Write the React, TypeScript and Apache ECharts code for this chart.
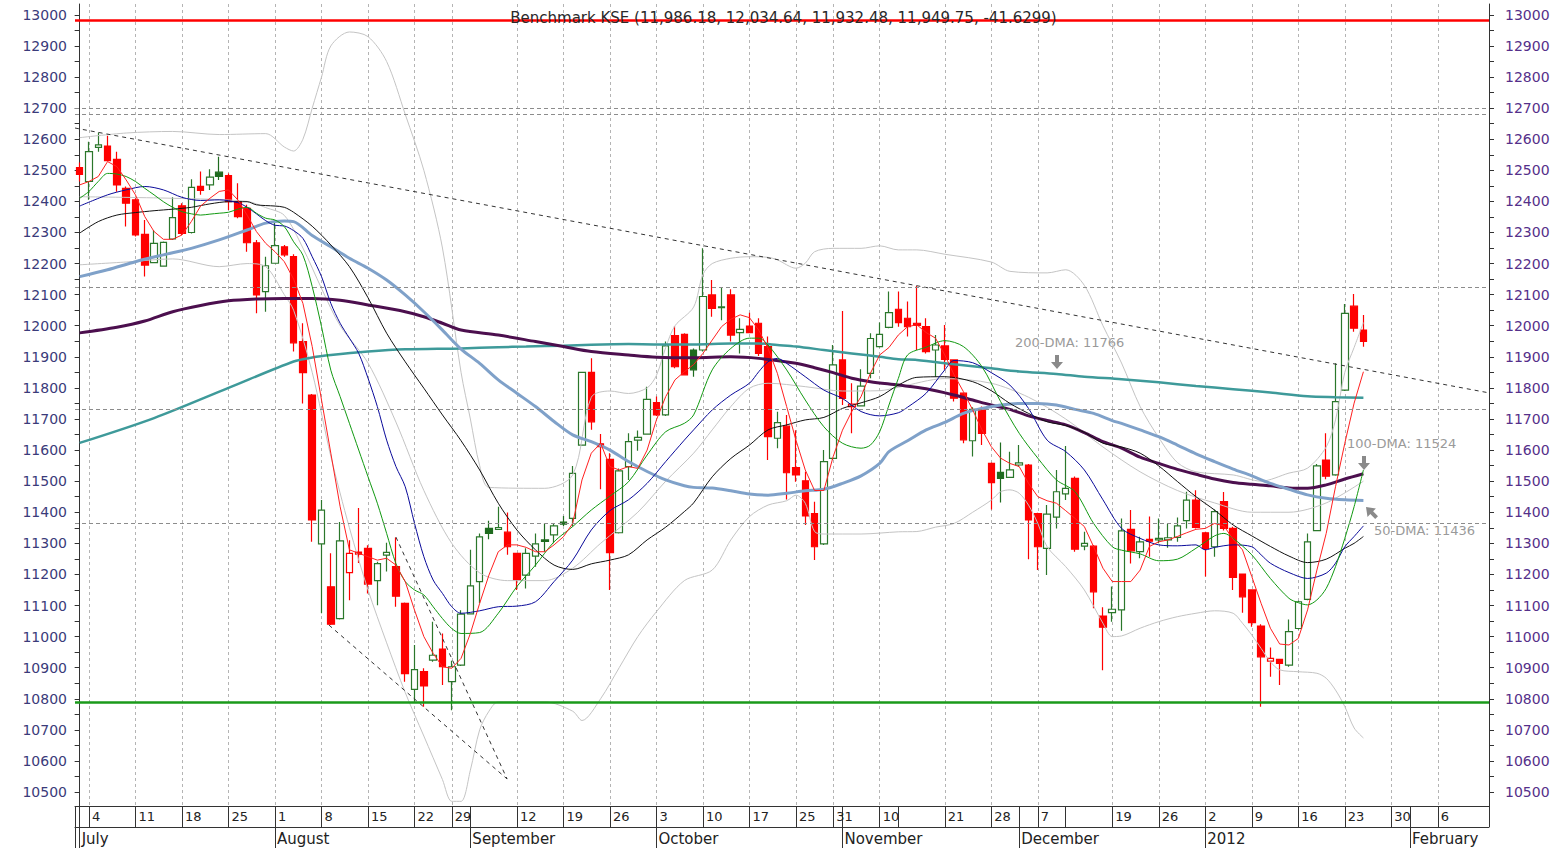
import React, { useEffect, useRef } from "react";
import * as echarts from "echarts";

// ---------- categories (trading days) ----------
const HOLIDAYS = [
  "2011-08-26", "2011-08-31", "2011-09-01", "2011-09-02", "2011-10-24",
  "2011-11-07", "2011-11-08", "2011-11-09", "2011-12-05", "2011-12-06",
];
function buildDays(): string[] {
  const out: string[] = [];
  const d = new Date(Date.UTC(2011, 6, 1));
  while (out.length < 152) {
    const wd = d.getUTCDay();
    const s = d.toISOString().slice(0, 10);
    if (wd !== 0 && wd !== 6 && HOLIDAYS.indexOf(s) < 0) out.push(s);
    d.setUTCDate(d.getUTCDate() + 1);
  }
  return out;
}
const DAYS = buildDays();

// ---------- tick labels ----------
const WEEK_TICKS = [0, 1, 6, 11, 16, 21, 26, 31, 36, 40, 42, 47, 52, 57, 62, 67, 72, 77, 81, 82, 86, 88, 93, 98, 101, 103, 106, 111, 116, 121, 126, 131, 136, 141, 143, 146];
const DAY_LABELED = [1, 6, 11, 16, 21, 26, 31, 36, 40, 47, 52, 57, 62, 67, 72, 77, 81, 86, 93, 98, 103, 111, 116, 121, 126, 131, 136, 141, 146];
const GRID_DAYS = DAY_LABELED;
const MONTH_TICKS = [0, 21, 42, 62, 82, 101, 121, 143];
const MONTH_NAMES = ["July", "August", "September", "October", "November", "December", "2012", "February"];
const Y_LABELS = [10500, 10600, 10700, 10800, 10900, 11000, 11100, 11200, 11300, 11400, 11500, 11600, 11700, 11800, 11900, 12000, 12100, 12200, 12300, 12400, 12500, 12600, 12700, 12800, 12900, 13000];
const Y_MINOR = [10550, 10650, 10750, 10850, 10950, 11050, 11150, 11250, 11350, 11450, 11550, 11650, 11750, 11850, 11950, 12050, 12150, 12250, 12350, 12450, 12550, 12650, 12750, 12850, 12950];

// ---------- prices: [open, high, low, close] ----------
const OHLC: number[][] = [
  [12509, 12525, 12464, 12487], [12464, 12592, 12405, 12560], [12574, 12622, 12560, 12582], [12578, 12611, 12528, 12531],
  [12535, 12560, 12431, 12453], [12442, 12448, 12319, 12394], [12405, 12410, 12287, 12292], [12294, 12340, 12158, 12195],
  [12203, 12308, 12201, 12265], [12192, 12271, 12190, 12268], [12279, 12413, 12276, 12348], [12386, 12394, 12292, 12297],
  [12300, 12471, 12297, 12445], [12448, 12496, 12421, 12435], [12453, 12503, 12437, 12478], [12494, 12544, 12469, 12480],
  [12483, 12490, 12372, 12399], [12399, 12458, 12346, 12351], [12378, 12389, 12238, 12267], [12267, 12276, 12040, 12099],
  [12110, 12222, 12045, 12193], [12201, 12335, 12199, 12258], [12254, 12260, 12222, 12228], [12222, 12230, 11917, 11945],
  [11949, 12008, 11750, 11849], [11777, 11780, 11305, 11375], [11298, 11439, 11075, 11407], [11160, 11268, 11037, 11040],
  [11058, 11369, 11055, 11308], [11206, 11310, 11117, 11268], [11272, 11414, 11237, 11265], [11284, 11294, 11139, 11169],
  [11180, 11241, 11101, 11235], [11262, 11302, 11209, 11271], [11225, 11319, 11096, 11130], [11107, 11110, 10855, 10881],
  [10830, 10973, 10790, 10894], [10887, 10898, 10774, 10841], [10924, 11048, 10919, 10940], [10960, 11010, 10844, 10903],
  [10855, 10922, 10763, 10903], [10908, 11085, 10905, 11072], [11073, 11279, 11072, 11163], [11177, 11332, 11107, 11321],
  [11348, 11373, 11313, 11332], [11345, 11418, 11343, 11351], [11336, 11399, 11263, 11289], [11268, 11270, 11150, 11182],
  [11198, 11284, 11155, 11268], [11259, 11332, 11225, 11298], [11311, 11364, 11273, 11306], [11327, 11362, 11300, 11356],
  [11368, 11388, 11356, 11362], [11380, 11549, 11354, 11525], [11616, 11852, 11614, 11850], [11850, 11895, 11665, 11691],
  [11620, 11652, 11474, 11611], [11570, 11590, 11150, 11270], [11334, 11541, 11332, 11533], [11547, 11654, 11504, 11627],
  [11632, 11663, 11598, 11641], [11651, 11804, 11650, 11763], [11753, 11772, 11710, 11713], [11713, 11949, 11710, 11935],
  [11968, 11999, 11863, 11868], [11972, 11976, 11840, 11842], [11922, 11927, 11836, 11858], [11922, 12249, 11917, 12094],
  [12099, 12147, 12029, 12056], [12058, 12124, 12018, 12061], [12099, 12117, 11949, 11970], [11978, 12024, 11911, 11988],
  [11999, 12042, 11976, 11978], [12008, 12024, 11903, 11911], [11933, 11965, 11568, 11643], [11638, 11723, 11606, 11688],
  [11677, 11713, 11441, 11527], [11544, 11664, 11498, 11520], [11501, 11530, 11359, 11388], [11396, 11434, 11246, 11289],
  [11298, 11600, 11295, 11563], [11573, 11938, 11568, 11874], [11890, 12047, 11745, 11766], [11740, 11815, 11654, 11748],
  [11742, 11860, 11740, 11806], [11847, 11976, 11831, 11959], [11933, 12010, 11930, 11972], [11995, 12110, 11992, 12042],
  [12053, 12110, 11997, 12010], [12024, 12078, 11965, 11997], [12008, 12128, 11922, 12001], [11997, 12024, 11911, 11917],
  [11922, 11970, 11836, 11938], [11935, 12002, 11858, 11892], [11890, 11892, 11756, 11767], [11783, 11785, 11622, 11633],
  [11630, 11738, 11579, 11731], [11729, 11740, 11616, 11654], [11557, 11560, 11409, 11495], [11528, 11624, 11431, 11509],
  [11512, 11595, 11510, 11536], [11552, 11616, 11546, 11559], [11552, 11555, 11249, 11375], [11396, 11398, 11214, 11289],
  [11284, 11423, 11198, 11394], [11384, 11536, 11348, 11466], [11459, 11613, 11439, 11477], [11509, 11515, 11273, 11281],
  [11291, 11337, 11278, 11300], [11291, 11295, 11091, 11144], [11066, 11094, 10892, 11030], [11077, 11161, 11048, 11088],
  [11086, 11380, 11019, 11340], [11345, 11407, 11235, 11276], [11273, 11321, 11252, 11305], [11313, 11386, 11257, 11307],
  [11311, 11380, 11300, 11316], [11311, 11362, 11286, 11318], [11319, 11383, 11305, 11356], [11373, 11466, 11348, 11439],
  [11439, 11471, 11348, 11351], [11334, 11337, 11193, 11284], [11289, 11409, 11257, 11402], [11434, 11465, 11341, 11348],
  [11348, 11353, 11150, 11190], [11201, 11203, 11077, 11128], [11150, 11152, 11032, 11045], [11034, 11040, 10774, 10935],
  [10921, 10965, 10871, 10930], [10927, 10929, 10844, 10914], [10908, 11055, 10903, 11016], [11026, 11115, 11023, 11112],
  [11120, 11332, 11117, 11305], [11341, 11555, 11339, 11549], [11568, 11654, 11506, 11516], [11520, 11879, 11517, 11756],
  [11793, 12070, 11790, 12040], [12063, 12102, 11981, 11992], [11986.18, 12034.64, 11932.48, 11949.75],
];
const DARK_FILLED = [15, 44, 50, 52, 66, 99];
const RED_HOLLOW = [29, 83, 128];

// ---------- indicator lines ----------
const MA5 = [
  12453, 12464, 12480, 12528, 12512, 12469, 12421, 12351, 12303, 12278, 12278, 12292, 12335, 12385, 12410, 12432, 12437, 12405, 12356, 12303,
  12265, 12238, 12206, 12150, 12072, 11933, 11761, 11590, 11418, 11279, 11268, 11257, 11246, 11252, 11230, 11177, 11085, 11000, 10946, 10903,
  10898, 10930, 11010, 11107, 11198, 11273, 11295, 11295, 11287, 11273, 11273, 11295, 11321, 11364, 11504, 11590, 11622, 11547, 11536, 11547,
  11541, 11600, 11697, 11772, 11826, 11852, 11875, 11911, 11954, 11997, 12021, 12035, 12026, 11986, 11927, 11847, 11740, 11632, 11536, 11470,
  11470, 11579, 11664, 11724, 11772, 11847, 11906, 11930, 11970, 11997, 12003, 11978, 11960, 11906, 11842, 11788, 11729, 11665, 11611, 11574,
  11557, 11547, 11493, 11450, 11437, 11429, 11405, 11380, 11354, 11289, 11220, 11177, 11177, 11177, 11214, 11290, 11305, 11311, 11322, 11334,
  11345, 11348, 11364, 11356, 11313, 11279, 11193, 11107, 11027, 10976, 10973, 10994, 11086, 11214, 11332, 11482, 11622, 11751, 11852,
];
const MA10: number[][] = [
  [0, 12410], [1, 12432], [2, 12464], [3, 12490], [4, 12488], [5, 12480], [6, 12464], [7, 12442], [8, 12421], [9, 12399], [10, 12381], [11, 12367],
  [12, 12360], [13, 12356], [14, 12359], [15, 12362], [16, 12365], [17, 12375], [18, 12381], [19, 12362], [20, 12346], [21, 12340], [22, 12319],
  [23, 12270], [24, 12227], [25, 12126], [26, 11997], [27, 11857], [28, 11772], [29, 11686], [30, 11600], [31, 11514], [32, 11429], [33, 11332],
  [34, 11235], [35, 11177], [36, 11150], [37, 11134], [38, 11096], [39, 11058], [40, 11026], [41, 11010], [43, 11013], [45, 11075], [47, 11161],
  [49, 11230], [51, 11305], [53, 11354], [55, 11407], [57, 11452], [59, 11498], [61, 11584], [63, 11659], [65, 11686], [66, 11713], [68, 11858],
  [70, 11927], [72, 11960], [73, 11960], [74, 11938], [76, 11858], [78, 11761], [80, 11675], [82, 11622], [84, 11606], [85, 11616], [86, 11659],
  [87, 11745], [88, 11830], [89, 11906], [91, 11931], [93, 11952], [95, 11933], [97, 11868], [99, 11756], [101, 11654], [103, 11574], [105, 11504],
  [107, 11466], [109, 11364], [111, 11289], [112, 11278], [114, 11266], [116, 11244], [118, 11249], [120, 11284], [122, 11324], [123, 11332],
  [124, 11316], [126, 11263], [128, 11187], [130, 11123], [131, 11109], [132, 11102], [133, 11118], [134, 11155], [135, 11225], [136, 11316],
  [137, 11418], [138, 11536],
];
const MA20: number[][] = [
  [0, 12385], [3, 12421], [5, 12437], [7, 12448], [9, 12437], [11, 12413], [13, 12403], [15, 12405], [17, 12396], [18, 12381], [19, 12360],
  [20, 12338], [21, 12323], [22, 12321], [23, 12306], [24, 12281], [25, 12222], [26, 12158], [27, 12072], [28, 12008], [29, 11960], [30, 11911],
  [31, 11831], [32, 11740], [33, 11632], [34, 11547], [35, 11482], [36, 11364], [37, 11257], [38, 11182], [39, 11139], [40, 11096], [41, 11075],
  [43, 11083], [45, 11096], [47, 11098], [49, 11112], [51, 11177], [53, 11246], [55, 11343], [57, 11405], [59, 11440], [61, 11493], [63, 11563],
  [65, 11632], [66, 11665], [68, 11729], [70, 11777], [72, 11815], [73, 11852], [74, 11884], [75, 11895], [76, 11879], [78, 11836], [80, 11793],
  [82, 11766], [84, 11724], [86, 11710], [88, 11720], [89, 11738], [91, 11783], [93, 11858], [94, 11888], [96, 11881], [98, 11849], [100, 11809],
  [102, 11734], [104, 11632], [106, 11595], [108, 11536], [110, 11440], [112, 11348], [114, 11316], [116, 11295], [118, 11292], [120, 11295],
  [121, 11279], [122, 11287], [124, 11295], [126, 11289], [127, 11263], [128, 11236], [130, 11206], [132, 11187], [134, 11204], [135, 11236],
  [136, 11289], [137, 11322], [138, 11356],
];
const MA30: number[][] = [
  [0, 12298], [2, 12335], [4, 12356], [6, 12364], [8, 12370], [10, 12375], [12, 12381], [14, 12392], [16, 12399], [18, 12399], [19, 12389],
  [21, 12385], [22, 12381], [23, 12365], [25, 12320], [27, 12260], [29, 12190], [31, 12090], [33, 11976], [35, 11884], [37, 11799], [39, 11713],
  [41, 11630], [43, 11536], [45, 11429], [47, 11343], [49, 11279], [51, 11230], [53, 11216], [55, 11234], [57, 11246], [59, 11263], [61, 11311],
  [63, 11352], [65, 11402], [66, 11430], [68, 11514], [70, 11573], [72, 11616], [74, 11665], [76, 11681], [78, 11697], [80, 11705], [82, 11734],
  [84, 11752], [86, 11772], [88, 11809], [90, 11834], [93, 11836], [96, 11820], [98, 11791], [100, 11750], [102, 11718], [104, 11691],
  [106, 11679], [108, 11657], [110, 11622], [112, 11610], [114, 11590], [116, 11549], [118, 11499], [120, 11450], [122, 11407], [124, 11359],
  [126, 11324], [128, 11290], [130, 11259], [132, 11238], [134, 11249], [136, 11284], [137, 11300], [138, 11322],
];
const DMA50: number[][] = [
  [0, 12158], [3, 12180], [6, 12206], [9, 12228], [12, 12249], [15, 12276], [18, 12308], [20, 12330], [22, 12337], [23, 12335], [25, 12290],
  [27, 12254], [29, 12217], [31, 12185], [33, 12147], [35, 12099], [37, 12045], [39, 11986], [41, 11925], [43, 11879], [45, 11826], [47, 11783],
  [49, 11740], [51, 11692], [53, 11649], [55, 11627], [57, 11600], [59, 11563], [61, 11531], [63, 11504], [65, 11485], [66, 11480], [68, 11478],
  [70, 11469], [72, 11459], [74, 11455], [76, 11461], [78, 11469], [80, 11474], [82, 11493], [84, 11517], [86, 11557], [87, 11595], [89, 11630],
  [91, 11665], [93, 11689], [95, 11718], [97, 11734], [99, 11745], [101, 11750], [103, 11750], [105, 11745], [107, 11731], [109, 11718],
  [111, 11695], [112, 11686], [114, 11665], [116, 11643], [118, 11616], [120, 11588], [122, 11563], [124, 11539], [126, 11517], [128, 11493],
  [130, 11474], [132, 11456], [134, 11445], [136, 11440], [138, 11438],
];
const DMA100: number[][] = [
  [0, 11977], [4, 11995], [7, 12015], [10, 12045], [13, 12065], [16, 12080], [19, 12086], [22, 12088], [25, 12088], [28, 12082], [31, 12067],
  [35, 12045], [37, 12029], [39, 12008], [41, 11986], [45, 11970], [49, 11949], [52, 11933], [55, 11917], [59, 11906], [62, 11899], [66, 11897],
  [70, 11900], [73, 11895], [77, 11879], [79, 11865], [81, 11849], [83, 11831], [85, 11820], [88, 11809], [91, 11797], [94, 11777], [96, 11761],
  [98, 11745], [100, 11731], [102, 11710], [104, 11695], [106, 11681], [108, 11656], [110, 11627], [112, 11606], [114, 11577], [116, 11557],
  [118, 11538], [120, 11522], [122, 11507], [124, 11496], [126, 11490], [128, 11485], [130, 11478], [132, 11477], [134, 11488], [136, 11507],
  [138, 11524],
];
const DMA200: number[][] = [
  [0, 11623], [8, 11703], [16, 11800], [23, 11885], [25, 11898], [27, 11906], [31, 11917], [35, 11924], [41, 11927], [45, 11931], [48, 11933],
  [52, 11936], [55, 11939], [59, 11941], [62, 11940], [66, 11940], [70, 11943], [73, 11943], [75, 11938], [77, 11933], [80, 11922], [83, 11911],
  [86, 11900], [88, 11892], [90, 11890], [94, 11876], [98, 11863], [101, 11853], [105, 11845], [108, 11836], [112, 11828], [116, 11818],
  [120, 11806], [124, 11796], [128, 11785], [132, 11773], [135, 11770], [138, 11768],
];
const BB_UPPER: number[][] = [
  [0, 12605], [5, 12620], [10, 12625], [15, 12615], [20, 12618], [22, 12575], [23, 12562], [24, 12600], [25, 12700], [26, 12800], [27, 12900],
  [29, 12945], [31, 12930], [33, 12850], [35, 12680], [37, 12500], [39, 12250], [41, 11850], [42, 11700], [43, 11550], [44, 11480], [50, 11477],
  [53, 11520], [55, 11770], [57, 11790], [59, 11782], [61, 11800], [62, 11840], [63, 11930], [64, 12000], [66, 12060], [67, 12165], [68, 12200],
  [70, 12217], [72, 12222], [74, 12220], [75, 12212], [77, 12185], [78, 12201], [79, 12238], [81, 12249], [84, 12249], [86, 12257], [88, 12244],
  [90, 12244], [93, 12230], [98, 12205], [100, 12175], [104, 12170], [106, 12180], [108, 12130], [110, 12000], [112, 11880], [114, 11740],
  [116, 11640], [118, 11560], [120, 11530], [124, 11520], [127, 11500], [130, 11526], [132, 11542], [134, 11610], [135, 11697], [136, 11850],
  [137, 11930], [138, 12010],
];
const BB_MID: number[][] = [
  [0, 12415], [10, 12410], [18, 12400], [20, 12380], [22, 12355], [24, 12250], [26, 12120], [28, 12000], [31, 11880], [34, 11690], [37, 11470],
  [40, 11300], [43, 11205], [46, 11180], [50, 11180], [53, 11220], [56, 11300], [60, 11400], [63, 11500], [66, 11590], [68, 11665], [70, 11740],
  [72, 11799], [74, 11815], [78, 11804], [82, 11790], [86, 11791], [88, 11802], [93, 11830], [98, 11815], [102, 11770], [106, 11700], [110, 11610],
  [114, 11530], [118, 11470], [122, 11430], [126, 11400], [130, 11400], [134, 11430], [138, 11500],
];
const BB_LOWER: number[][] = [
  [0, 12196], [5, 12205], [10, 12215], [15, 12190], [18, 12200], [20, 12190], [22, 12100], [23, 12050], [25, 11850], [27, 11580], [29, 11350],
  [31, 11150], [33, 10980], [35, 10820], [37, 10680], [39, 10540], [40, 10470], [41, 10470], [42, 10570], [43, 10700], [44, 10760], [45, 10790],
  [50, 10790], [53, 10760], [54, 10730], [56, 10800], [58, 10900], [60, 11000], [62, 11080], [65, 11180], [68, 11214], [70, 11311], [72, 11386],
  [74, 11423], [76, 11437], [77, 11455], [78, 11429], [79, 11338], [80, 11330], [84, 11330], [88, 11337], [90, 11338], [92, 11352], [94, 11364],
  [96, 11400], [98, 11439], [99, 11466], [100, 11472], [101, 11461], [102, 11423], [103, 11364], [104, 11289], [106, 11225], [108, 11150],
  [110, 11043], [111, 11000], [112, 11002], [114, 11027], [116, 11048], [118, 11064], [120, 11075], [122, 11083], [124, 11075], [125, 11043],
  [126, 11005], [127, 10962], [128, 10919], [129, 10893], [131, 10887], [133, 10882], [134, 10866], [135, 10828], [136, 10775], [137, 10706],
  [138, 10674],
];

// ---------- levels & trend lines ----------
const RESISTANCE = 12984;
const SUPPORT = 10790;
const DASHED_LEVELS = [12700, 12681, 12125, 11730, 11365];
const TREND_MAIN = [[-0.5, 12636], [151.5, 11784]];
const TREND_LOW_A = [[26.8, 11037], [45.95, 10542]];
const TREND_LOW_B = [[34.0, 11320], [45.95, 10542]];
const TITLE = "Benchmark KSE (11,986.18, 12,034.64, 11,932.48, 11,949.75, -41.6299)";
const NOTE_200 = "200-DMA: 11766";
const NOTE_100 = "100-DMA: 11524";
const NOTE_50 = "50-DMA: 11436";

const FONT = "DejaVu Sans, Verdana, sans-serif";

function downArrow(cx: number, top: number) {
  return {
    type: "polygon",
    shape: {
      points: [
        [cx - 2, top], [cx + 2, top], [cx + 2, top + 7], [cx + 6, top + 7],
        [cx, top + 14], [cx - 6, top + 7], [cx - 2, top + 7],
      ],
    },
    style: { fill: "#8a8a8a" },
    silent: true,
  };
}

export default function App() {
  const ref = useRef<HTMLDivElement>(null);
  useEffect(() => {
    if (!ref.current) return;
    const chart = echarts.init(ref.current, undefined, { renderer: "svg" });
    const sepSet = new Set(WEEK_TICKS);
    const lblSet = new Set(DAY_LABELED);
    const gridSet = new Set(GRID_DAYS);
    const monSet = new Set(MONTH_TICKS);

    const candleData = OHLC.map((r, i) => {
      const item: any = { value: [r[0], r[3], r[2], r[1]] };
      if (DARK_FILLED.indexOf(i) >= 0) item.itemStyle = { color0: "#1f6b1f", borderColor0: "#1f6b1f" };
      if (RED_HOLLOW.indexOf(i) >= 0) item.itemStyle = { color: "#ffffff", borderColor: "#ff0000" };
      return item;
    });

    const lineSeries = (data: any, color: string, width: number, smooth: number | boolean, z = 3) => ({
      type: "line",
      data,
      xAxisIndex: 0,
      yAxisIndex: 0,
      symbol: "none",
      showSymbol: false,
      smooth,
      lineStyle: { color, width },
      z,
      silent: true,
    });
    const trend = (data: number[][]) => ({
      type: "line",
      data,
      xAxisIndex: 2,
      yAxisIndex: 0,
      symbol: "none",
      lineStyle: { color: "#333333", width: 1, type: [4, 4] },
      z: 4,
      silent: true,
    });

    const yCommon = {
      type: "value",
      min: 10455,
      max: 13035,
      splitLine: { show: false },
      axisLine: { show: true, lineStyle: { color: "#333333", width: 1 } },
      axisTick: { show: true, length: 5, customValues: [...Y_LABELS, ...Y_MINOR], lineStyle: { color: "#333333" } },
    };
    const yFmt = (v: number) => String(v);

    const option: any = {
      animation: false,
      backgroundColor: "#ffffff",
      grid: { left: 75, right: 78, top: 4, bottom: 42, containLabel: false, outerBoundsMode: "none" },
      title: {
        text: TITLE,
        left: "center",
        top: 5,
        textStyle: { fontFamily: FONT, fontSize: 15, fontWeight: "normal", color: "#2a2a2a" },
      },
      xAxis: [
        {
          type: "category",
          data: DAYS,
          boundaryGap: true,
          position: "bottom",
          axisLine: { show: true, lineStyle: { color: "#333333" } },
          axisTick: { show: true, alignWithLabel: true, interval: (i: number) => sepSet.has(i), length: 21, lineStyle: { color: "#333333" } },
          axisLabel: {
            interval: (i: number) => lblSet.has(i),
            formatter: (v: string) => String(parseInt(v.slice(8), 10)),
            align: "left",
            padding: [0, 0, 0, 3],
            margin: 4,
            fontSize: 13,
            fontFamily: FONT,
            color: "#222222",
          },
          splitLine: {
            show: true,
            alignWithLabel: true,
            interval: (i: number) => gridSet.has(i),
            lineStyle: { color: "#b4b4b4", type: [3, 3], width: 1 },
          },
        },
        {
          type: "category",
          data: DAYS,
          boundaryGap: true,
          position: "bottom",
          offset: 21,
          axisLine: { show: true, lineStyle: { color: "#333333" } },
          axisTick: { show: true, alignWithLabel: true, interval: (i: number) => monSet.has(i), length: 21, lineStyle: { color: "#333333" } },
          axisLabel: {
            interval: (i: number) => monSet.has(i),
            formatter: (_v: string, i: number) => MONTH_NAMES[MONTH_TICKS.indexOf(i)] || "",
            align: "left",
            padding: [0, 0, 0, 2],
            margin: 4,
            fontSize: 15,
            fontFamily: FONT,
            color: "#222222",
          },
          splitLine: { show: false },
        },
        { type: "value", min: -0.5, max: 151.5, show: false },
      ],
      yAxis: [
        {
          ...yCommon,
          position: "left",
          axisLabel: { customValues: Y_LABELS, formatter: yFmt, fontSize: 14, fontFamily: FONT, color: "#3b3b7a", margin: 8 },
        },
        {
          ...yCommon,
          position: "right",
          axisLabel: { customValues: Y_LABELS, formatter: yFmt, fontSize: 14, fontFamily: FONT, color: "#55308a", margin: 16 },
        },
      ],
      series: [
        {
          type: "candlestick",
          data: candleData,
          xAxisIndex: 0,
          yAxisIndex: 0,
          barWidth: 7,
          z: 2,
          itemStyle: { color: "#ffffff", color0: "#ff0000", borderColor: "#2b772b", borderColor0: "#ff0000", borderWidth: 1.2 },
          markLine: {
            silent: true,
            symbol: ["none", "none"],
            label: { show: false },
            data: [
              { yAxis: RESISTANCE, lineStyle: { color: "#ff0000", width: 2.5, type: "solid" } },
              { yAxis: SUPPORT, lineStyle: { color: "#1a9a1a", width: 2.5, type: "solid" } },
              ...DASHED_LEVELS.map((v) => ({ yAxis: v, lineStyle: { color: "#8c8c8c", width: 1, type: [4, 3] } })),
            ],
          },
        },
        lineSeries(BB_UPPER, "#c4c4c4", 1, 0.3),
        lineSeries(BB_MID, "#c4c4c4", 1, 0.3),
        lineSeries(BB_LOWER, "#c4c4c4", 1, 0.3),
        lineSeries(DMA200, "#3e9a9a", 2.5, 0.3),
        lineSeries(DMA100, "#4c0f4e", 3, 0.3),
        lineSeries(DMA50, "#7fa1c9", 3, 0.3),
        lineSeries(MA30, "#111111", 1, 0.3),
        lineSeries(MA20, "#0a0a9a", 1, 0.3),
        lineSeries(MA10, "#119911", 1, 0.3),
        lineSeries(MA5, "#ff2020", 1, false),
        trend(TREND_MAIN),
        trend(TREND_LOW_A),
        trend(TREND_LOW_B),
      ],
      graphic: [
        { type: "text", x: 1015, y: 342, silent: true, style: { text: NOTE_200, fill: "#9a9a9a", font: `13px ${FONT}`, textAlign: "left", textVerticalAlign: "middle", align: "left", verticalAlign: "middle" } },
        { type: "text", x: 1347, y: 443, silent: true, style: { text: NOTE_100, fill: "#9a9a9a", font: `13px ${FONT}`, textAlign: "left", textVerticalAlign: "middle", align: "left", verticalAlign: "middle" } },
        { type: "text", x: 1374, y: 530, silent: true, style: { text: NOTE_50, fill: "#9a9a9a", font: `13px ${FONT}`, textAlign: "left", textVerticalAlign: "middle", align: "left", verticalAlign: "middle" } },
        downArrow(1057, 355),
        downArrow(1364, 456),
        {
          type: "polygon",
          silent: true,
          shape: { points: [[1366, 507], [1375.9, 508.5], [1373.1, 511.3], [1378, 516.2], [1375.2, 519], [1370.3, 514.1], [1367.5, 516.9]] },
          style: { fill: "#8a8a8a" },
        },
        { type: "line", silent: true, shape: { x1: 75.5, y1: 806, x2: 75.5, y2: 848 }, style: { stroke: "#333333", lineWidth: 1 } },
        { type: "line", silent: true, shape: { x1: 1489.5, y1: 806, x2: 1489.5, y2: 827 }, style: { stroke: "#333333", lineWidth: 1 } },
      ],
    };
    chart.setOption(option);
    return () => chart.dispose();
  }, []);
  return <div ref={ref} style={{ position: "absolute", left: 0, top: 0, width: 1567, height: 848 }} />;
}
